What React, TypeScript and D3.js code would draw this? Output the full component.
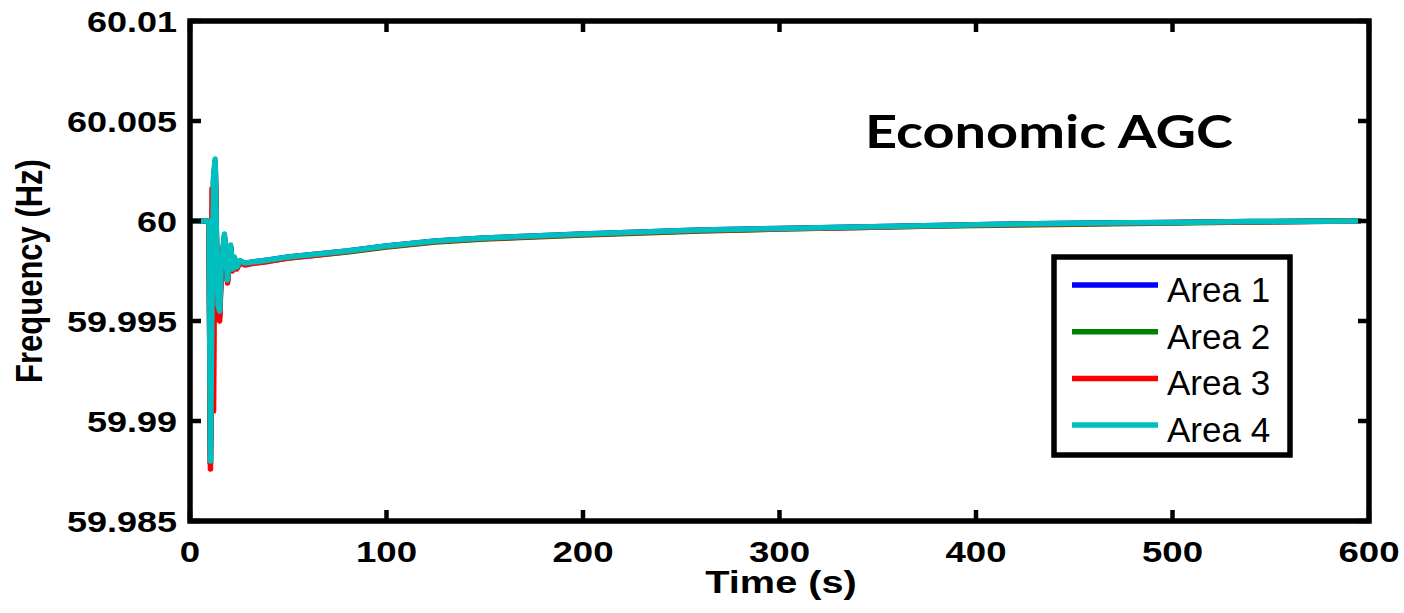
import React from 'react'
import * as d3 from 'd3'

// time (s) and frequency (Hz) of the four areas
const time = [0, 9.7, 10.4, 11.2, 12.0, 12.8, 13.5, 14.3, 15.1, 15.9, 16.7, 17.5, 18.3, 19.1, 19.9, 20.7, 21.6, 22.6, 23.8, 25.5, 28, 32, 40, 50, 65, 80, 100, 125, 150, 175, 200, 230, 260, 300, 340, 380, 420, 460, 500, 540, 595]

const area1 = [60, 60, 59.9879, 59.9958, 60.0020, 60.0029, 59.9988, 59.9956, 59.9952, 59.9976, 59.9984, 59.9992, 59.9983, 59.9970, 59.9980, 59.9987, 59.9976, 59.9981, 59.9977, 59.9980, 59.99788, 59.99795, 59.99805, 59.9982, 59.99835, 59.9985, 59.99875, 59.9990, 59.99915, 59.99925, 59.99935, 59.99945, 59.99955, 59.99963, 59.9997, 59.99978, 59.99985, 59.9999, 59.99993, 59.99997, 60]
const area2 = [60, 60, 59.9879, 59.9959, 60.0021, 60.0030, 59.9989, 59.9957, 59.9954, 59.9977, 59.9985, 59.9992, 59.9983, 59.9970, 59.9980, 59.9987, 59.9976, 59.9981, 59.9977, 59.9980, 59.99785, 59.9979, 59.998, 59.99815, 59.9983, 59.99845, 59.9987, 59.99895, 59.9991, 59.9992, 59.9993, 59.9994, 59.9995, 59.9996, 59.99968, 59.99975, 59.9998, 59.99985, 59.9999, 59.99995, 60]
const area3 = [60, 60, 59.9876, 60.0016, 59.9905, 60.0028, 59.9986, 59.9953, 59.9950, 59.9975, 59.9983, 59.9991, 59.9982, 59.9969, 59.9979, 59.9986, 59.9975, 59.9980, 59.9976, 59.9979, 59.9978, 59.99788, 59.99798, 59.99815, 59.9983, 59.99848, 59.99872, 59.99898, 59.99912, 59.99922, 59.99932, 59.99943, 59.99952, 59.99961, 59.99968, 59.99976, 59.99983, 59.99988, 59.99992, 59.99996, 60]
const area4 = [60, 60, 59.9880, 59.9960, 60.0022, 60.0031, 59.9990, 59.9958, 59.9955, 59.9978, 59.9985, 59.99935, 59.9984, 59.99705, 59.9981, 59.9988, 59.9976, 59.9982, 59.9977, 59.9980, 59.9979, 59.99795, 59.99805, 59.9982, 59.99835, 59.9985, 59.99875, 59.9990, 59.99915, 59.99925, 59.99935, 59.99945, 59.99955, 59.99963, 59.9997, 59.99978, 59.99985, 59.9999, 59.99993, 59.99997, 60]

const seriesNames = ['Area 1', 'Area 2', 'Area 3', 'Area 4']
const seriesColors = ['#0000ff', '#008000', '#ff0000', '#00bfbf']
const xTicks = [0, 100, 200, 300, 400, 500, 600]
const yTicks = [59.985, 59.99, 59.995, 60, 60.005, 60.01]
const yTickLabels = ['59.985', '59.99', '59.995', '60', '60.005', '60.01']

const W = 1404, H = 613
const left = 190, right = 1369, top = 21, bottom = 521

// text drawn a bit wider than the font, like the stretched original
const SText = ({x, y, sx, rot, anchor, size, weight, family, children}: any) => (
  <text
    transform={`translate(${x},${y}) scale(${sx},1)${rot ? ` rotate(${rot})` : ''}`}
    textAnchor={anchor || 'start'}
    fontSize={size}
    fontWeight={weight || 'bold'}
    fontFamily={family || '"Liberation Sans", Arial, sans-serif'}
    fill="#000"
  >
    {children}
  </text>
)

export default function App() {
  const x = d3.scaleLinear().domain([0, 600]).range([left, right])
  const y = d3.scaleLinear().domain([59.985, 60.01]).range([bottom, top])

  const line = d3.line<[number, number]>()
    .x(d => x(d[0]))
    .y(d => y(d[1]))

  const series = [area1, area2, area3, area4].map(vals => time.map((t, i) => [t, vals[i]] as [number, number]))

  const tickLen = 11

  return (
    <svg width={W} height={H} style={{position: 'absolute', left: 0, top: 0, background: '#fff'}}>
      <rect width={W} height={H} fill="#fff" />
      <defs>
        <clipPath id="plot">
          <rect x={left} y={top} width={right - left} height={bottom - top} />
        </clipPath>
      </defs>

      {/* curves */}
      <g clipPath="url(#plot)">
        {series.map((s, i) => (
          <path key={i} d={line(s) || ''} fill="none" stroke={seriesColors[i]}
            strokeWidth={5.5} strokeLinejoin="round" strokeLinecap="round" />
        ))}
      </g>

      {/* ticks on all four sides, pointing in */}
      <g stroke="#000" strokeWidth={4.5}>
        {xTicks.map(t => (
          <g key={'x' + t}>
            <line x1={x(t)} x2={x(t)} y1={bottom} y2={bottom - tickLen} />
            <line x1={x(t)} x2={x(t)} y1={top} y2={top + tickLen} />
          </g>
        ))}
        {yTicks.map(t => (
          <g key={'y' + t}>
            <line x1={left} x2={left + tickLen} y1={y(t)} y2={y(t)} />
            <line x1={right} x2={right - tickLen} y1={y(t)} y2={y(t)} />
          </g>
        ))}
      </g>

      {/* frame */}
      <rect x={left} y={top} width={right - left} height={bottom - top} fill="none" stroke="#000" strokeWidth={5.5} />

      {/* tick labels */}
      {xTicks.map(t => (
        <SText key={'xl' + t} x={x(t)} y={562} sx={1.22} anchor="middle" size={30}>{t}</SText>
      ))}
      {yTicks.map((t, i) => (
        <SText key={'yl' + t} x={177} y={y(t) + 11} sx={1.2} anchor="end" size={30}>{yTickLabels[i]}</SText>
      ))}

      {/* axis titles */}
      <SText x={781} y={593} sx={1.28} anchor="middle" size={31}>Time (s)</SText>
      <SText x={42} y={271} sx={1.2} rot={-90} anchor="middle" size={31}>Frequency (Hz)</SText>

      {/* annotation */}
      <text x={865} y={148} fontSize={46} fontWeight="bold" fontFamily="Lato, 'Open Sans', sans-serif"
        textLength={368} lengthAdjust="spacingAndGlyphs" fill="#000">Economic AGC</text>

      {/* legend */}
      <rect x={1054} y={257} width={236} height={198} fill="#fff" stroke="#000" strokeWidth={5.5} />
      {seriesNames.map((name, i) => {
        const ly = 285 + i * 46.7
        return (
          <g key={name}>
            <line x1={1072} x2={1158} y1={ly} y2={ly} stroke={seriesColors[i]} strokeWidth={5.5} />
            <text x={1167} y={ly + 17} fontSize={35} fontFamily='"Liberation Sans", Arial, sans-serif' fill="#000">{name}</text>
          </g>
        )
      })}
    </svg>
  )
}
